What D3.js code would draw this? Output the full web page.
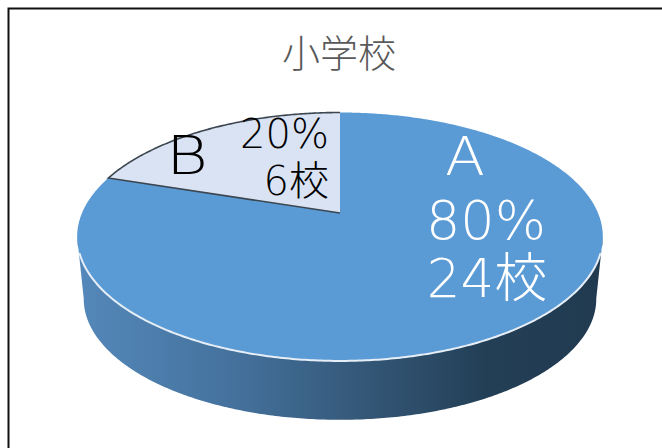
<!DOCTYPE html>
<html>
<head>
<meta charset="utf-8">
<script src="https://cdn.jsdelivr.net/npm/d3@7"></script>
<style>
html,body{margin:0;padding:0;background:#fff;overflow:hidden;}
svg{display:block;}
text{font-family:"DejaVu Sans","Noto Sans CJK JP",sans-serif;}
.jp{font-family:"Noto Sans CJK JP",sans-serif;}
</style>
</head>
<body>
<div id="chart"></div>
<script>
var title = "小学校";
var categories = ["A", "B"];
var schools = [24, 6];
var percentLabels = ["80%", "20%"];
var countLabels = ["24校", "6校"];
var sliceColors = ["#5b9bd5", "#dae3f3"];

var width = 662, height = 448;

var svg = d3.select("#chart").append("svg")
    .attr("width", width)
    .attr("height", height);

// frame runs off the right and bottom of the picture
svg.append("path")
    .attr("d", "M8.5," + height + "V8.5H" + width)
    .attr("fill", "none")
    .attr("stroke", "#111")
    .attr("stroke-width", 2);

// side gradient
var grad = svg.append("defs").append("linearGradient")
    .attr("id", "side")
    .attr("gradientUnits", "userSpaceOnUse")
    .attr("x1", 80).attr("x2", 600).attr("y1", 0).attr("y2", 0);
[[0, "#5488ba"], [0.3, "#44719c"], [0.55, "#345777"], [0.78, "#233f56"], [1, "#213a50"]].forEach(function (s) {
    grad.append("stop").attr("offset", s[0]).attr("stop-color", s[1]);
});

// perspective projection of the unit circle, so the centre sits above the ellipse middle
var cx = 340, cy = 213, midY = 236.75, persp = -0.191, ky = 79, kx = 258;
function project(a, r, dy, s) {
    var x = Math.sin(a) * r, y = -Math.cos(a) * r;
    var d = 1 + persp * y;
    var py = (ky * y + cy) / d;
    return [cx + s * kx * x / d, midY + (py - midY) * s + dy];
}
var line = d3.line();
function arcPoints(a0, a1, dy, s) {
    var n = Math.max(2, Math.ceil(Math.abs(a1 - a0) / 0.01));
    return d3.range(n + 1).map(function (i) {
        return project(a0 + (a1 - a0) * i / n, 1, dy, s);
    });
}

var pie = d3.pie().sort(null).value(function (d) { return d; });
var slices = pie(schools);

// the side wall, front half only. widest points of the ellipse sit a bit forward of 90 degrees
var rightEdge = Math.PI / 2 + 0.192, leftEdge = Math.PI * 1.5 - 0.192;
var sideTop = arcPoints(rightEdge, leftEdge, 0, 1);
var sideBottom = arcPoints(leftEdge, rightEdge, 62, 0.975);
svg.append("path")
    .attr("d", line(sideTop.concat(sideBottom)) + "Z")
    .attr("fill", "url(#side)");

// top face
svg.selectAll(".slice")
    .data(slices)
    .enter().append("path")
    .attr("class", "slice")
    .attr("d", function (d) {
        var pts = arcPoints(d.startAngle, d.endAngle, 0, 1);
        pts.push(project(0, 0, 0, 1));
        return line(pts) + "Z";
    })
    .attr("fill", function (d, i) { return sliceColors[i]; });

// light rim on the front edge
svg.append("path")
    .attr("d", line(arcPoints(rightEdge + 0.13, leftEdge - 0.13, 0, 1)))
    .attr("fill", "none")
    .attr("stroke", "#e6eef7")
    .attr("stroke-width", 2);

// outline of the small slice
var small = slices[1];
svg.append("path")
    .attr("d", line(arcPoints(small.endAngle, small.startAngle, 0, 1).concat([project(0, 0, 0, 1)])))
    .attr("fill", "none")
    .attr("stroke", "#3b4650")
    .attr("stroke-width", 1.6);

// text
svg.append("text")
    .attr("class", "jp")
    .attr("x", 339).attr("y", 67)
    .attr("text-anchor", "middle")
    .attr("font-size", 38)
    .attr("font-weight", 300)
    .attr("fill", "#595959")
    .text(title);

var labelA = svg.append("g").attr("fill", "#fff").attr("font-weight", 200);
labelA.append("text").attr("x", 465).attr("y", 175).attr("text-anchor", "middle").attr("font-size", 53)
    .attr("textLength", 40).attr("lengthAdjust", "spacingAndGlyphs").text(categories[0]);
labelA.append("text").attr("x", 486).attr("y", 239).attr("text-anchor", "middle").attr("font-size", 54).text(percentLabels[0]);
labelA.append("text").attr("x", 487).attr("y", 297).attr("text-anchor", "middle").attr("font-size", 53).text(countLabels[0]);

var labelB = svg.append("g").attr("fill", "#000").attr("font-weight", 200);
labelB.append("text").attr("x", 187).attr("y", 174).attr("text-anchor", "middle").attr("font-size", 53)
    .attr("textLength", 42).attr("lengthAdjust", "spacingAndGlyphs").text(categories[1]);
labelB.append("text").attr("x", 329).attr("y", 148).attr("text-anchor", "end").attr("font-size", 40).text(percentLabels[1]);
labelB.append("text").attr("x", 329).attr("y", 195).attr("text-anchor", "end").attr("font-size", 40).text(countLabels[1]);
</script>
</body>
</html>
